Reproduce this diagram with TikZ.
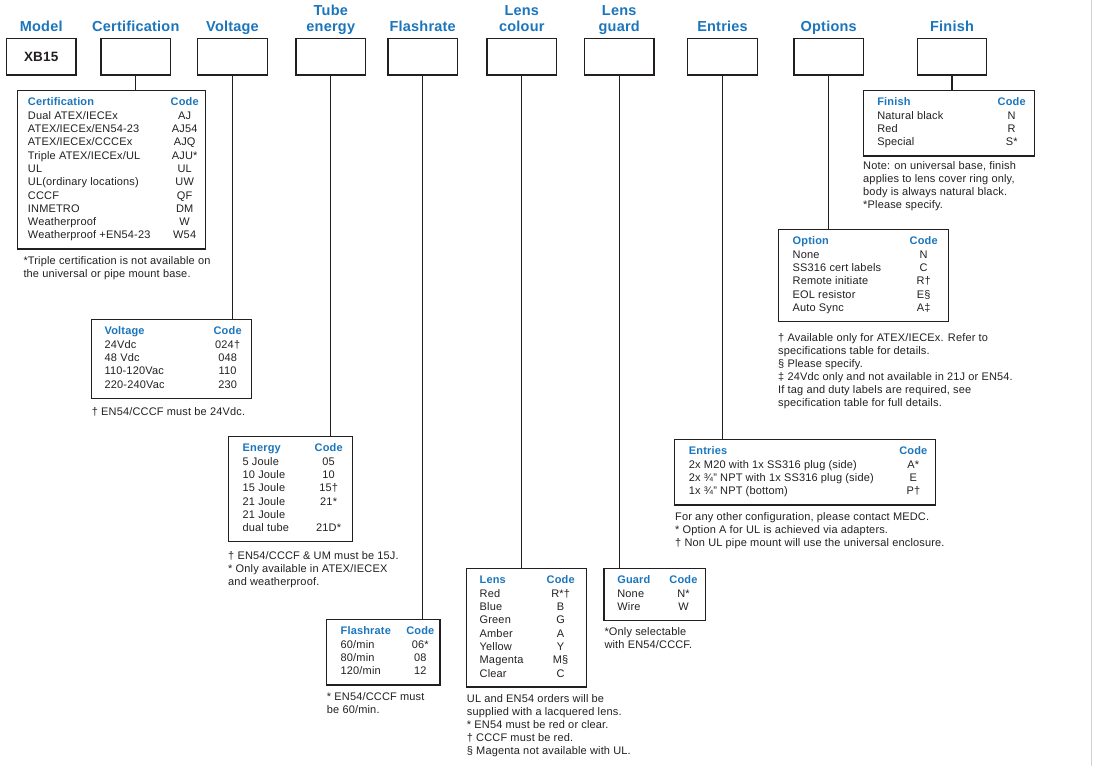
\documentclass[tikz,border=0pt]{standalone}
\usepackage{fontspec}
\setmainfont{Liberation Sans}[LetterSpace=1.5]
\usepackage{array}
\usepackage{tikz}
\usetikzlibrary{positioning}

\definecolor{hdblue}{RGB}{27,117,188}
\definecolor{ink}{RGB}{35,31,32}

\newcommand{\hd}[1]{{\bfseries\color{hdblue}#1}}
% code table: left pad, item width, code width, right pad, rows
\newcommand{\codetab}[5]{%
  \begin{tabular}{@{\hspace{#1pt}}w{l}{#2pt}@{}w{c}{#3pt}@{\hspace{#4pt}}}#5\end{tabular}}

\tikzset{
  selbox/.style={draw=ink, line width=1.3pt, minimum width=69.5pt, minimum height=36.7pt, inner sep=0pt},
  hdtext/.style={anchor=base, text=hdblue, align=center, font=\fontsize{14.5}{16.5}\selectfont\bfseries},
  codebox/.style={draw=ink, line width=1.3pt, anchor=north west, inner xsep=0pt, inner ysep=6pt,
    text=ink, font=\fontsize{11}{13.3}\selectfont},
  notetext/.style={anchor=north west, inner sep=0pt, align=left, text=ink, font=\fontsize{11}{13}\selectfont},
  stem/.style={draw=ink, line width=1.3pt}
}

\begin{document}
\begin{tikzpicture}[x=1pt, y=-1pt]
    \useasboundingbox (0,0) rectangle (1093,766);
    \draw[gray!35, line width=1pt] (1091.5,0) -- (1091.5,766);

    % Selection boxes
    \node[selbox] (bmodel)  at (41.2,56.7)  {\fontsize{13.5}{15}\selectfont\bfseries\color{ink}XB15};
    \node[selbox] (bcert)   at (135.8,56.7) {};
    \node[selbox] (bvolt)   at (232.5,56.7) {};
    \node[selbox] (btube)   at (330.8,56.7) {};
    \node[selbox] (bflash)  at (422.7,56.7) {};
    \node[selbox] (blens)   at (521.8,56.7) {};
    \node[selbox] (bguard)  at (619.2,56.7) {};
    \node[selbox] (bentry)  at (722.5,56.7) {};
    \node[selbox] (bopt)    at (828.7,56.7) {};
    \node[selbox] (bfinish) at (952,56.7)   {};

    % Headings
    \node[hdtext] (hmodel)  at ([yshift=5.8pt]bmodel.north)   {Model};
    \node[hdtext] (hcert)   at ([yshift=5.8pt]bcert.north)    {Certification};
    \node[hdtext] (hvolt)   at ([yshift=5.8pt]bvolt.north)    {Voltage};
    \node[hdtext] (htube)   at ([yshift=5.8pt]btube.north)    {Tube\\energy};
    \node[hdtext] (hflash)  at ([yshift=5.8pt]bflash.north)   {Flashrate};
    \node[hdtext] (hlens)   at ([yshift=5.8pt]blens.north)    {Lens\\colour};
    \node[hdtext] (hguard)  at ([yshift=5.8pt]bguard.north)   {Lens\\guard};
    \node[hdtext] (hentry)  at ([yshift=5.8pt]bentry.north)   {Entries};
    \node[hdtext] (hopt)    at ([yshift=5.8pt]bopt.north)     {Options};
    \node[hdtext] (hfinish) at ([yshift=5.8pt]bfinish.north)  {Finish};

    % Code tables
    \node[codebox] (tcert) at (16.5,90) {\codetab{10.8}{142.7}{28}{7}{%
        \hd{Certification} & \hd{Code}\\
        Dual ATEX/IECEx & AJ\\
        ATEX/IECEx/EN54-23 & AJ54\\
        ATEX/IECEx/CCCEx & AJQ\\
        Triple ATEX/IECEx/UL & AJU*\\
        UL & UL\\
        UL(ordinary locations) & UW\\
        CCCF & QF\\
        INMETRO & DM\\
        Weatherproof & W\\
        Weatherproof +EN54-23 & W54}};
    \node[codebox] (tfinish) at (863,90) {\codetab{13.7}{119.3}{30}{8}{%
        \hd{Finish} & \hd{Code}\\
        Natural black & N\\
        Red & R\\
        Special & S*}};
    \node[codebox] (topt) at (778,229) {\codetab{14}{116}{30}{10}{%
        \hd{Option} & \hd{Code}\\
        None & N\\
        SS316 cert labels & C\\
        Remote initiate & R†\\
        EOL resistor & E§\\
        Auto Sync & A‡}};
    \node[codebox] (tvolt) at (90.7,319) {\codetab{13.3}{108}{30}{8.7}{%
        \hd{Voltage} & \hd{Code}\\
        24Vdc & 024†\\
        48 Vdc & 048\\
        110-120Vac & 110\\
        220-240Vac & 230}};
    \node[codebox] (ttube) at (228,436) {\codetab{14}{70}{32}{8}{%
        \hd{Energy} & \hd{Code}\\
        5 Joule & 05\\
        10 Joule & 10\\
        15 Joule & 15†\\
        21 Joule & 21*\\
        21 Joule & \\
        dual tube & 21D*}};
    \node[codebox] (tentry) at (674,439) {\codetab{14.3}{209.4}{30}{7.3}{%
        \hd{Entries} & \hd{Code}\\
        2x M20 with 1x SS316 plug (side) & A*\\
        2x ¾" NPT with 1x SS316 plug (side) & E\\
        1x ¾" NPT (bottom) & P†}};
    \node[codebox] (tflash) at (325.7,619) {\codetab{14.3}{64.7}{30}{4.6}{%
        \hd{Flashrate} & \hd{Code}\\
        60/min & 06*\\
        80/min & 08\\
        120/min & 12}};
    \node[codebox] (tlens) at (465.7,568) {\codetab{13.3}{66}{30}{10.7}{%
        \hd{Lens} & \hd{Code}\\
        Red & R*†\\
        Blue & B\\
        Green & G\\
        Amber & A\\
        Yellow & Y\\
        Magenta & M§\\
        Clear & C}};
    \node[codebox] (tguard) at (603.3,568) {\codetab{13.4}{51.1}{30}{7.2}{%
        \hd{Guard} & \hd{Code}\\
        None & N*\\
        Wire & W}};

    % Notes under the tables
    \node[notetext] (ncert) at ([xshift=6.8pt,yshift=-7pt]tcert.south west)
        {*Triple certification is not available on\\the universal or pipe mount base.};
    \node[notetext] (nfinish) at ([yshift=-5.3pt]tfinish.south west)
        {Note: on universal base, finish\\applies to lens cover ring only,\\body is always natural black.\\*Please specify.};
    \node[notetext] (nopt) at ([yshift=-11pt]topt.south west)
        {† Available only for ATEX/IECEx. Refer to\\specifications table for details.\\§ Please specify.\\‡ 24Vdc only and not available in 21J or EN54.\\If tag and duty labels are required, see\\specification table for full details.};
    \node[notetext] (nvolt) at ([xshift=1pt,yshift=-9pt]tvolt.south west)
        {† EN54/CCCF must be 24Vdc.};
    \node[notetext] (ntube) at ([yshift=-9pt]ttube.south west)
        {† EN54/CCCF \& UM must be 15J.\\* Only available in ATEX/IECEX\\and weatherproof.};
    \node[notetext] (nentry) at ([xshift=1pt,yshift=-7pt]tentry.south west)
        {For any other configuration, please contact MEDC.\\* Option A for UL is achieved via adapters.\\† Non UL pipe mount will use the universal enclosure.};
    \node[notetext] (nflash) at ([xshift=1pt,yshift=-7pt]tflash.south west)
        {* EN54/CCCF must\\be 60/min.};
    \node[notetext] (nlens) at ([xshift=1pt,yshift=-7pt]tlens.south west)
        {UL and EN54 orders will be\\supplied with a lacquered lens.\\* EN54 must be red or clear.\\† CCCF must be red.\\§ Magenta not available with UL.};
    \node[notetext] (nguard) at ([xshift=1pt,yshift=-6pt]tguard.south west)
        {*Only selectable\\with EN54/CCCF.};

    % Stems from boxes down to tables
    \draw[stem] (bcert.south)   -- (bcert.south |- tcert.north);
    \draw[stem] (bvolt.south)   -- (bvolt.south |- tvolt.north);
    \draw[stem] (btube.south)   -- (btube.south |- ttube.north);
    \draw[stem] (bflash.south)  -- (bflash.south |- tflash.north);
    \draw[stem] (blens.south)   -- (blens.south |- tlens.north);
    \draw[stem] (bguard.south)  -- (bguard.south |- tguard.north);
    \draw[stem] (bentry.south)  -- (bentry.south |- tentry.north);
    \draw[stem] (bopt.south)    -- (bopt.south |- topt.north);
    \draw[stem] (bfinish.south) -- (bfinish.south |- tfinish.north);
\end{tikzpicture}
\end{document}
